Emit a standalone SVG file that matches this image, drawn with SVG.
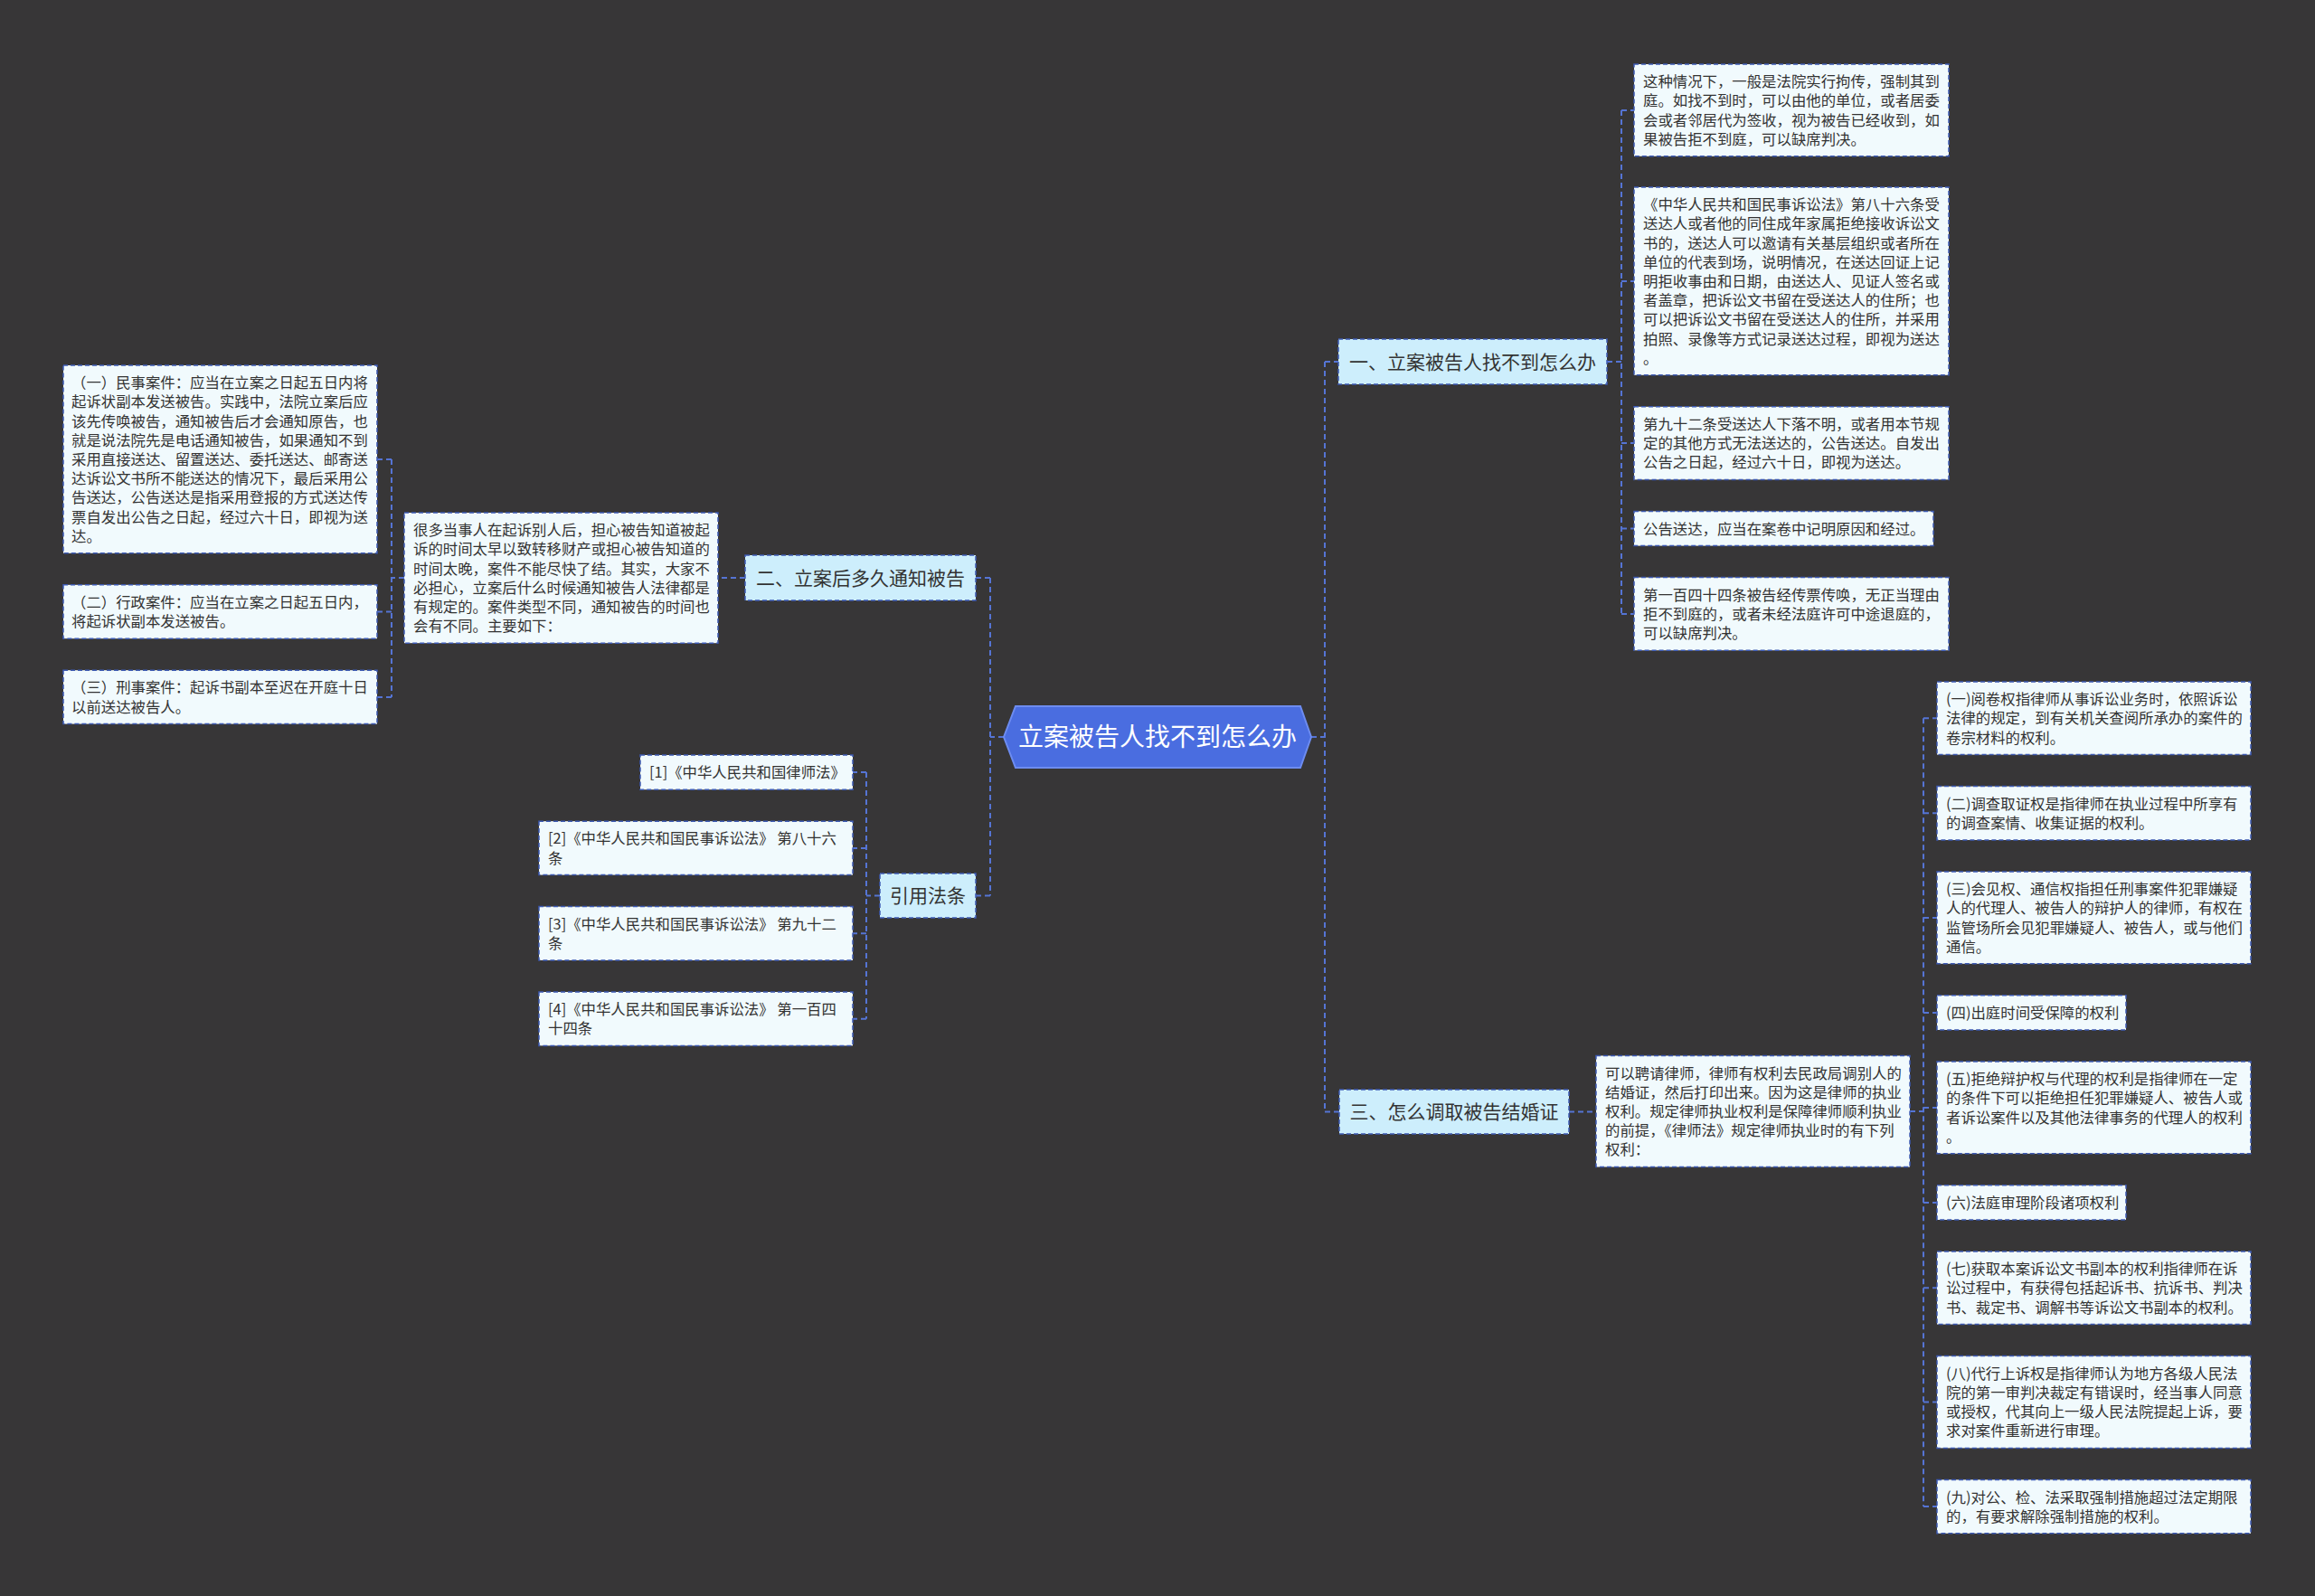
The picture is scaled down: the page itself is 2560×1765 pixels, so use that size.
<svg xmlns="http://www.w3.org/2000/svg" width="2560" height="1765" viewBox="0 0 2560 1765">
<style>
.bg{fill:#373637}
.leaf rect{fill:#f1fafd;stroke:#3d5ab3;stroke-width:1.5;stroke-dasharray:5 3}
.branch rect{fill:#cdeefc;stroke:#3d5ab3;stroke-width:1.5;stroke-dasharray:5 3}
.leaf text{font-family:"Noto Sans CJK SC","Microsoft YaHei",sans-serif;font-size:16.4px;fill:#333333}
.branch text{font-family:"Noto Sans CJK SC","Microsoft YaHei",sans-serif;font-size:21px;fill:#333333;text-anchor:middle}
.center text{font-family:"Noto Sans CJK SC","Microsoft YaHei",sans-serif;font-size:28px;fill:#ffffff;text-anchor:middle}
#connectors path{fill:none;stroke:#5574d4;stroke-width:2;stroke-dasharray:6 4}
</style>
<rect class="bg" x="0" y="0" width="2560" height="1765"/>

<g id="connectors">
<path d="M1450,815 H1465"/>
<path d="M1465,400 V1229.5"/>
<path d="M1465,400 H1480"/>
<path d="M1465,1229.5 H1481"/>
<path d="M1777,400 H1793"/>
<path d="M1793,121.9 V678.9"/>
<path d="M1793,121.9 H1807"/>
<path d="M1793,310.9 H1807"/>
<path d="M1793,490.1 H1807"/>
<path d="M1793,584.5 H1807"/>
<path d="M1793,678.9 H1807"/>
<path d="M1735,1229.5 H1765"/>
<path d="M2112,1229 H2127"/>
<path d="M2127,794.3 V1666.1"/>
<path d="M2127,794.3 H2142"/>
<path d="M2127,899.3 H2142"/>
<path d="M2127,1014.9 H2142"/>
<path d="M2127,1119.9 H2142"/>
<path d="M2127,1224.9 H2142"/>
<path d="M2127,1329.9 H2142"/>
<path d="M2127,1424.3 H2142"/>
<path d="M2127,1550.5 H2142"/>
<path d="M2127,1666.1 H2142"/>
<path d="M1110,815 H1095"/>
<path d="M1095,639 V990.5"/>
<path d="M1095,639 H1079"/>
<path d="M1095,990.5 H1079"/>
<path d="M824,639 H794"/>
<path d="M447,639 H433"/>
<path d="M433,507.9 V770.9"/>
<path d="M433,507.9 H417"/>
<path d="M433,676.5 H417"/>
<path d="M433,770.9 H417"/>
<path d="M973,990.5 H958"/>
<path d="M958,854.1 V1126.7"/>
<path d="M958,854.1 H943"/>
<path d="M958,937.9 H943"/>
<path d="M958,1032.3 H943"/>
<path d="M958,1126.7 H943"/>
</g>

<g id="root" class="center">
<polygon points="1110,815 1123,781 1438,781 1450,815 1438,849 1123,849" fill="#4a6de0" stroke="#6d8cf0" stroke-width="2"/>
<text x="1280" y="825">立案被告人找不到怎么办</text>
</g>

<g id="b1" class="branch">
<rect x="1480" y="375" width="297" height="50"/>
<text x="1628.5" y="407.5">一、立案被告人找不到怎么办</text>
</g>
<g id="b2" class="branch">
<rect x="824" y="614" width="255" height="50"/>
<text x="951.5" y="646.5">二、立案后多久通知被告</text>
</g>
<g id="b3" class="branch">
<rect x="1481" y="1205" width="254" height="49"/>
<text x="1608" y="1237">三、怎么调取被告结婚证</text>
</g>
<g id="b4" class="branch">
<rect x="973" y="966" width="106" height="49"/>
<text x="1026" y="998">引用法条</text>
</g>

<g id="r1" class="leaf">
<rect x="1807" y="71" width="348" height="101.8"/>
<text x="1817" y="96.1"><tspan x="1817">这种情况下，一般是法院实行拘传，强制其到</tspan><tspan x="1817" dy="21.2">庭。如找不到时，可以由他的单位，或者居委</tspan><tspan x="1817" dy="21.2">会或者邻居代为签收，视为被告已经收到，如</tspan><tspan x="1817" dy="21.2">果被告拒不到庭，可以缺席判决。</tspan></text>
</g>
<g id="r2" class="leaf">
<rect x="1807" y="207" width="348" height="207.8"/>
<text x="1817" y="232.1"><tspan x="1817">《中华人民共和国民事诉讼法》第八十六条受</tspan><tspan x="1817" dy="21.2">送达人或者他的同住成年家属拒绝接收诉讼文</tspan><tspan x="1817" dy="21.2">书的，送达人可以邀请有关基层组织或者所在</tspan><tspan x="1817" dy="21.2">单位的代表到场，说明情况，在送达回证上记</tspan><tspan x="1817" dy="21.2">明拒收事由和日期，由送达人、见证人签名或</tspan><tspan x="1817" dy="21.2">者盖章，把诉讼文书留在受送达人的住所；也</tspan><tspan x="1817" dy="21.2">可以把诉讼文书留在受送达人的住所，并采用</tspan><tspan x="1817" dy="21.2">拍照、录像等方式记录送达过程，即视为送达</tspan><tspan x="1817" dy="21.2">。</tspan></text>
</g>
<g id="r3" class="leaf">
<rect x="1807" y="449.8" width="348" height="80.6"/>
<text x="1817" y="474.9"><tspan x="1817">第九十二条受送达人下落不明，或者用本节规</tspan><tspan x="1817" dy="21.2">定的其他方式无法送达的，公告送达。自发出</tspan><tspan x="1817" dy="21.2">公告之日起，经过六十日，即视为送达。</tspan></text>
</g>
<g id="r4" class="leaf">
<rect x="1807" y="565.4" width="331" height="38.2"/>
<text x="1817" y="590.5">公告送达，应当在案卷中记明原因和经过。</text>
</g>
<g id="r5" class="leaf">
<rect x="1807" y="638.6" width="348" height="80.6"/>
<text x="1817" y="663.7"><tspan x="1817">第一百四十四条被告经传票传唤，无正当理由</tspan><tspan x="1817" dy="21.2">拒不到庭的，或者未经法庭许可中途退庭的，</tspan><tspan x="1817" dy="21.2">可以缺席判决。</tspan></text>
</g>

<g id="p3" class="leaf">
<rect x="1765" y="1167.5" width="347" height="123"/>
<text x="1775" y="1192.6"><tspan x="1775">可以聘请律师，律师有权利去民政局调别人的</tspan><tspan x="1775" dy="21.2">结婚证，然后打印出来。因为这是律师的执业</tspan><tspan x="1775" dy="21.2">权利。规定律师执业权利是保障律师顺利执业</tspan><tspan x="1775" dy="21.2">的前提，《律师法》规定律师执业时的有下列</tspan><tspan x="1775" dy="21.2">权利：</tspan></text>
</g>

<g id="q1" class="leaf">
<rect x="2142" y="754" width="347" height="80.6"/>
<text x="2152" y="779.1"><tspan x="2152">(一)阅卷权指律师从事诉讼业务时，依照诉讼</tspan><tspan x="2152" dy="21.2">法律的规定，到有关机关查阅所承办的案件的</tspan><tspan x="2152" dy="21.2">卷宗材料的权利。</tspan></text>
</g>
<g id="q2" class="leaf">
<rect x="2142" y="869.6" width="347" height="59.4"/>
<text x="2152" y="894.7"><tspan x="2152">(二)调查取证权是指律师在执业过程中所享有</tspan><tspan x="2152" dy="21.2">的调查案情、收集证据的权利。</tspan></text>
</g>
<g id="q3" class="leaf">
<rect x="2142" y="964" width="347" height="101.8"/>
<text x="2152" y="989.1"><tspan x="2152">(三)会见权、通信权指担任刑事案件犯罪嫌疑</tspan><tspan x="2152" dy="21.2">人的代理人、被告人的辩护人的律师，有权在</tspan><tspan x="2152" dy="21.2">监管场所会见犯罪嫌疑人、被告人，或与他们</tspan><tspan x="2152" dy="21.2">通信。</tspan></text>
</g>
<g id="q4" class="leaf">
<rect x="2142" y="1100.8" width="209" height="38.2"/>
<text x="2152" y="1125.9">(四)出庭时间受保障的权利</text>
</g>
<g id="q5" class="leaf">
<rect x="2142" y="1174" width="347" height="101.8"/>
<text x="2152" y="1199.1"><tspan x="2152">(五)拒绝辩护权与代理的权利是指律师在一定</tspan><tspan x="2152" dy="21.2">的条件下可以拒绝担任犯罪嫌疑人、被告人或</tspan><tspan x="2152" dy="21.2">者诉讼案件以及其他法律事务的代理人的权利</tspan><tspan x="2152" dy="21.2">。</tspan></text>
</g>
<g id="q6" class="leaf">
<rect x="2142" y="1310.8" width="209" height="38.2"/>
<text x="2152" y="1335.9">(六)法庭审理阶段诸项权利</text>
</g>
<g id="q7" class="leaf">
<rect x="2142" y="1384" width="347" height="80.6"/>
<text x="2152" y="1409.1"><tspan x="2152">(七)获取本案诉讼文书副本的权利指律师在诉</tspan><tspan x="2152" dy="21.2">讼过程中，有获得包括起诉书、抗诉书、判决</tspan><tspan x="2152" dy="21.2">书、裁定书、调解书等诉讼文书副本的权利。</tspan></text>
</g>
<g id="q8" class="leaf">
<rect x="2142" y="1499.6" width="347" height="101.8"/>
<text x="2152" y="1524.7"><tspan x="2152">(八)代行上诉权是指律师认为地方各级人民法</tspan><tspan x="2152" dy="21.2">院的第一审判决裁定有错误时，经当事人同意</tspan><tspan x="2152" dy="21.2">或授权，代其向上一级人民法院提起上诉，要</tspan><tspan x="2152" dy="21.2">求对案件重新进行审理。</tspan></text>
</g>
<g id="q9" class="leaf">
<rect x="2142" y="1636.4" width="347" height="59.4"/>
<text x="2152" y="1661.5"><tspan x="2152">(九)对公、检、法采取强制措施超过法定期限</tspan><tspan x="2152" dy="21.2">的，有要求解除强制措施的权利。</tspan></text>
</g>

<g id="p2" class="leaf">
<rect x="447" y="567" width="347" height="144.2"/>
<text x="457" y="592.1"><tspan x="457">很多当事人在起诉别人后，担心被告知道被起</tspan><tspan x="457" dy="21.2">诉的时间太早以致转移财产或担心被告知道的</tspan><tspan x="457" dy="21.2">时间太晚，案件不能尽快了结。其实，大家不</tspan><tspan x="457" dy="21.2">必担心，立案后什么时候通知被告人法律都是</tspan><tspan x="457" dy="21.2">有规定的。案件类型不同，通知被告的时间也</tspan><tspan x="457" dy="21.2">会有不同。主要如下：</tspan></text>
</g>

<g id="l1" class="leaf">
<rect x="70" y="404" width="347" height="207.8"/>
<text x="79" y="429.1"><tspan x="79">（一）民事案件：应当在立案之日起五日内将</tspan><tspan x="79" dy="21.2">起诉状副本发送被告。实践中，法院立案后应</tspan><tspan x="79" dy="21.2">该先传唤被告，通知被告后才会通知原告，也</tspan><tspan x="79" dy="21.2">就是说法院先是电话通知被告，如果通知不到</tspan><tspan x="79" dy="21.2">采用直接送达、留置送达、委托送达、邮寄送</tspan><tspan x="79" dy="21.2">达诉讼文书所不能送达的情况下，最后采用公</tspan><tspan x="79" dy="21.2">告送达，公告送达是指采用登报的方式送达传</tspan><tspan x="79" dy="21.2">票自发出公告之日起，经过六十日，即视为送</tspan><tspan x="79" dy="21.2">达。</tspan></text>
</g>
<g id="l2" class="leaf">
<rect x="70" y="646.8" width="347" height="59.4"/>
<text x="79" y="671.9"><tspan x="79">（二）行政案件：应当在立案之日起五日内，</tspan><tspan x="79" dy="21.2">将起诉状副本发送被告。</tspan></text>
</g>
<g id="l3" class="leaf">
<rect x="70" y="741.2" width="347" height="59.4"/>
<text x="79" y="766.3"><tspan x="79">（三）刑事案件：起诉书副本至迟在开庭十日</tspan><tspan x="79" dy="21.2">以前送达被告人。</tspan></text>
</g>

<g id="c1" class="leaf">
<rect x="708" y="835" width="235" height="38.2"/>
<text x="718" y="860.1">[1]《中华人民共和国律师法》</text>
</g>
<g id="c2" class="leaf">
<rect x="596" y="908.2" width="347" height="59.4"/>
<text x="606" y="933.3"><tspan x="606">[2]《中华人民共和国民事诉讼法》 第八十六</tspan><tspan x="606" dy="21.2">条</tspan></text>
</g>
<g id="c3" class="leaf">
<rect x="596" y="1002.6" width="347" height="59.4"/>
<text x="606" y="1027.7"><tspan x="606">[3]《中华人民共和国民事诉讼法》 第九十二</tspan><tspan x="606" dy="21.2">条</tspan></text>
</g>
<g id="c4" class="leaf">
<rect x="596" y="1097" width="347" height="59.4"/>
<text x="606" y="1122.1"><tspan x="606">[4]《中华人民共和国民事诉讼法》 第一百四</tspan><tspan x="606" dy="21.2">十四条</tspan></text>
</g>
</svg>
